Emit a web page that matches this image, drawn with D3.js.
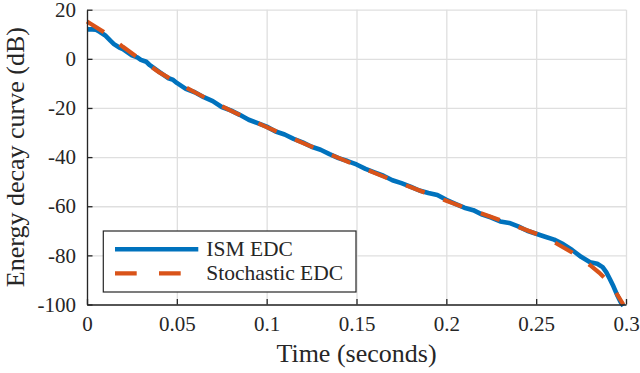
<!DOCTYPE html>
<html>
<head>
<meta charset="utf-8">
<script src="https://cdn.jsdelivr.net/npm/d3@7"></script>
<style>
  body { margin: 0; background: #fff; }
  svg text { font-family: "Liberation Serif", "Times New Roman", "DejaVu Serif", serif; fill: #262626; }
</style>
</head>
<body>
<div id="chart"></div>
<script>
// ISM energy decay curve (seconds, dB)
const ismTime = [0, 0.003, 0.005, 0.007, 0.010, 0.013, 0.015, 0.018, 0.020, 0.025, 0.028, 0.030, 0.033, 0.035,
  0.040, 0.045, 0.048, 0.050, 0.055, 0.060, 0.065, 0.070, 0.075, 0.080, 0.085, 0.090, 0.095, 0.100,
  0.105, 0.110, 0.115, 0.120, 0.125, 0.130, 0.135, 0.140, 0.145, 0.150, 0.155, 0.160, 0.165, 0.170,
  0.175, 0.180, 0.185, 0.190, 0.195, 0.200, 0.205, 0.210, 0.215, 0.220, 0.225, 0.230, 0.235, 0.240,
  0.245, 0.250, 0.255, 0.260, 0.265, 0.270, 0.275, 0.280, 0.284, 0.287, 0.289, 0.291, 0.293, 0.295,
  0.297, 0.2985]
const ismEdc = [12.0, 12.0, 11.8, 11.0, 9.6, 7.4, 6.0, 4.6, 4.0, 1.4, 0.6, -0.4, -1.2, -2.6,
  -5.2, -7.8, -8.6, -9.8, -12.2, -13.6, -15.6, -17.2, -19.6, -21.0, -22.8, -24.8, -26.2, -27.6,
  -29.6, -30.8, -32.6, -34.0, -35.8, -37.0, -38.8, -40.4, -41.6, -43.0, -44.8, -46.2, -47.6, -49.4,
  -50.6, -52.0, -53.6, -54.6, -55.4, -57.4, -59.0, -60.6, -61.6, -63.4, -64.6, -66.2, -66.8, -68.2,
  -70.0, -71.2, -72.4, -73.6, -75.4, -77.8, -80.6, -82.8, -83.4, -84.8, -86.8, -89.6, -92.6, -96.0,
  -99.0, -100.6]

// Stochastic energy decay curve
const stochTime = [0, 0.01, 0.02, 0.03, 0.04, 0.05, 0.06, 0.07, 0.08, 0.09, 0.10, 0.11, 0.12, 0.13,
  0.14, 0.15, 0.16, 0.17, 0.18, 0.19, 0.20, 0.21, 0.22, 0.23, 0.24, 0.25, 0.26, 0.27, 0.275, 0.28,
  0.285, 0.29, 0.294, 0.2985]
const stochEdc = [15.2, 10.6, 4.9, -0.4, -5.4, -9.6, -13.6, -17.4, -21.1, -24.5, -27.8, -31.0, -34.2, -37.3,
  -40.3, -43.4, -46.4, -49.4, -52.2, -55.0, -57.8, -60.5, -63.1, -65.7, -68.4, -71.2, -74.6, -78.8, -81.3, -84.0,
  -87.0, -90.6, -94.6, -100]

const xTicks = [0, 0.05, 0.1, 0.15, 0.2, 0.25, 0.3]
const yTicks = [-100, -80, -60, -40, -20, 0, 20]
const seriesNames = ['ISM EDC', 'Stochastic EDC']

const BLUE = '#0072BD'
const ORANGE = '#D95319'
const AXIS = '#262626'
const FONT = '"Liberation Serif", "Times New Roman", "DejaVu Serif", serif'

const margin = {top: 9.7, right: 14, bottom: 68.5, left: 87}
const width = 640 - margin.left - margin.right
const height = 373 - margin.top - margin.bottom

const xScale = d3.scaleLinear().domain([0, 0.3]).range([0, width])
const yScale = d3.scaleLinear().domain([-100, 20]).range([height, 0])

const svg = d3.select('#chart').append('svg')
  .attr('width', 640)
  .attr('height', 373)
  .append('g')
  .attr('transform', 'translate(' + margin.left + ',' + margin.top + ')')

// grid
svg.append('g')
  .attr('class', 'grid')
  .call(d3.axisLeft(yScale).tickValues(yTicks).tickSize(-width).tickFormat('').tickSizeOuter(0))
svg.append('g')
  .attr('class', 'grid')
  .attr('transform', 'translate(0,' + height + ')')
  .call(d3.axisBottom(xScale).tickValues(xTicks).tickSize(-height).tickFormat('').tickSizeOuter(0))
svg.selectAll('.grid .domain').remove()
svg.selectAll('.grid line').attr('stroke', '#dfdfdf').attr('stroke-width', 1.3)

const line = d3.line()
  .x(d => xScale(d[0]))
  .y(d => yScale(d[1]))

svg.append('path')
  .datum(d3.zip(ismTime, ismEdc))
  .attr('fill', 'none')
  .attr('stroke', BLUE)
  .attr('stroke-width', 4.6)
  .attr('stroke-linejoin', 'round')
  .attr('d', line)

svg.append('path')
  .datum(d3.zip(stochTime, stochEdc))
  .attr('fill', 'none')
  .attr('stroke', ORANGE)
  .attr('stroke-width', 4.2)
  .attr('stroke-dasharray', '20 20')
  .attr('d', line)

// axes, MATLAB style ticks pointing inward
const xAxis = svg.append('g')
  .attr('transform', 'translate(0,' + height + ')')
  .call(d3.axisBottom(xScale).tickValues(xTicks).tickSize(-5.5).tickSizeOuter(0).tickPadding(12).tickFormat(d => String(d)))
const yAxis = svg.append('g')
  .call(d3.axisLeft(yScale).tickValues(yTicks).tickSize(-5.5).tickSizeOuter(0).tickPadding(11).tickFormat(d => String(d)))

;[xAxis, yAxis].forEach(ax => {
  ax.attr('font-family', null).attr('font-size', null)
  ax.select('.domain').attr('stroke', AXIS).attr('stroke-width', 1.3)
  ax.selectAll('.tick line').attr('stroke', AXIS).attr('stroke-width', 1.3)
  ax.selectAll('.tick text').attr('fill', AXIS).style('font-size', '21px').style('font-family', FONT)
})
xAxis.selectAll('.tick text').attr('dy', '0.71em')

svg.append('text')
  .attr('x', width / 2)
  .attr('y', height + 58)
  .attr('text-anchor', 'middle')
  .style('font-size', '26px')
  .style('font-family', FONT)
  .text('Time (seconds)')

svg.append('text')
  .attr('transform', 'translate(' + (24 - margin.left) + ',' + (height / 2) + ') rotate(-90)')
  .attr('text-anchor', 'middle')
  .style('font-size', '26px')
  .style('font-family', FONT)
  .text('Energy decay curve (dB)')

// legend
const legend = svg.append('g')
  .attr('transform', 'translate(' + (103.3 - margin.left) + ',' + (231 - margin.top) + ')')
legend.append('rect')
  .attr('width', 252.7)
  .attr('height', 61)
  .attr('fill', '#fff')
  .attr('stroke', AXIS)
  .attr('stroke-width', 1.2)

const legendColors = [BLUE, ORANGE]
seriesNames.forEach((name, i) => {
  const cy = 18.3 + i * 24
  legend.append('line')
    .attr('x1', 11.7)
    .attr('x2', 95)
    .attr('y1', cy)
    .attr('y2', cy)
    .attr('stroke', legendColors[i])
    .attr('stroke-width', i === 0 ? 4.6 : 4.2)
    .attr('stroke-dasharray', i === 0 ? null : '21.7 22.3')
  legend.append('text')
    .attr('x', 103)
    .attr('y', cy + 7)
    .style('font-size', '21.5px')
    .style('font-family', FONT)
    .text(name)
})
</script>
</body>
</html>
